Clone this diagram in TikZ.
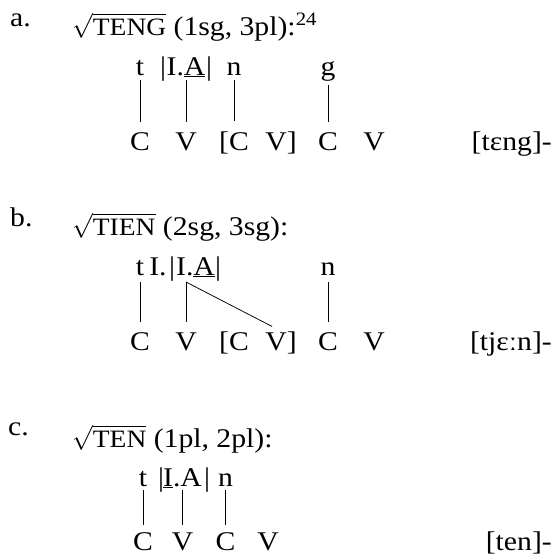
\documentclass[tikz,border=0pt]{standalone}
\usepackage{fontspec}
\setmainfont{Liberation Serif}[FakeStretch=1.1]
\newcommand{\fsc}[1]{{\fontsize{25}{30}\selectfont #1}}
\begin{document}
\begin{tikzpicture}[x=1pt,y=-1pt,
  txt/.style={inner sep=0pt, anchor=base, font=\fontsize{27}{32}\selectfont},
  lbl/.style={txt, anchor=base west},
  outp/.style={txt, anchor=base east},
  assoc/.style={line width=0.75pt, line cap=butt}]
\useasboundingbox (0,0) rectangle (560,558);

% ---------- a ----------
\node[lbl] (a-lab) at (10,26) {a.};
\node[lbl] (a-head) at (72,35) {$\sqrt{\mbox{\fsc{TENG}}}$ (1sg, 3pl):\textsuperscript{24}};
\node[txt] (a-t)  at (140,75) {t};
\node[txt] (a-b1) at (163,75) {|};
\node[txt] (a-IA) at (186,75) {I.\underline{A}};
\node[txt] (a-b2) at (209,75) {|};
\node[txt] (a-n)  at (234,75) {n};
\node[txt] (a-g)  at (328,75) {g};
\node[txt] (a-C1) at (140,150) {C};
\node[txt] (a-V1) at (186,150) {V};
\node[txt] (a-C2) at (234,150) {[C};
\node[txt] (a-V2) at (281,150) {V]};
\node[txt] (a-C3) at (328,150) {C};
\node[txt] (a-V3) at (374,150) {V};
\node[outp] (a-out) at (552,150) {[tɛng]-};
\draw[assoc, shorten <=5pt, shorten >=10pt] (a-t.base) -- (a-C1.north);
\draw[assoc, shorten <=5pt, shorten >=10pt] (a-IA.base) -- (a-V1.north);
\draw[assoc, shorten <=5pt, shorten >=10pt] (a-n.base) -- (a-C2.north);
\draw[assoc, shorten <=10pt, shorten >=10pt] (a-g.base) -- (a-C3.north);

% ---------- b ----------
\node[lbl] (b-lab) at (10,226) {b.};
\node[lbl] (b-head) at (72,235) {$\sqrt{\mbox{\fsc{TIEN}}}$ (2sg, 3sg):};
\node[txt] (b-t)  at (140,275) {t};
\node[txt] (b-I1) at (158,275) {I.};
\node[txt] (b-b1) at (172,275) {|};
\node[txt] (b-IA) at (195.5,275) {I.\underline{A}};
\node[txt] (b-b2) at (218,275) {|};
\node[txt] (b-n)  at (328,275) {n};
\coordinate (b-link) at (186,282);
\node[txt] (b-C1) at (140,350) {C};
\node[txt] (b-V1) at (186,350) {V};
\node[txt] (b-C2) at (234,350) {[C};
\node[txt] (b-V2) at (281,350) {V]};
\node[txt] (b-C3) at (328,350) {C};
\node[txt] (b-V3) at (374,350) {V};
\node[outp] (b-out) at (552,350) {[tjɛːn]-};
\draw[assoc, shorten <=7pt, shorten >=10pt] (b-t.base) -- (b-C1.north);
\draw[assoc, shorten >=10pt] (b-link) -- (b-V1.north);
\draw[assoc, shorten >=10pt] (b-link) -- (b-V2.north);
\draw[assoc, shorten <=7pt, shorten >=10pt] (b-n.base) -- (b-C3.north);

% ---------- c ----------
\node[lbl] (c-lab) at (8,435) {c.};
\node[lbl] (c-head) at (72,447) {$\sqrt{\mbox{\fsc{TEN}}}$ (1pl, 2pl):};
\node[txt] (c-t)  at (143,486) {t};
\node[txt] (c-b1) at (161,486) {|};
\node[txt] (c-IA) at (182.5,486) {\underline{I}.A};
\node[txt] (c-b2) at (207,486) {|};
\node[txt] (c-n)  at (225.5,486) {n};
\node[txt] (c-C1) at (143,550) {C};
\node[txt] (c-V1) at (182.5,550) {V};
\node[txt] (c-C2) at (225.5,550) {C};
\node[txt] (c-V2) at (268,550) {V};
\node[outp] (c-out) at (552,550) {[ten]-};
\draw[assoc, shorten <=4pt, shorten >=7pt] (c-t.base) -- (c-C1.north);
\draw[assoc, shorten <=4pt, shorten >=7pt] (c-IA.base) -- (c-V1.north);
\draw[assoc, shorten <=4pt, shorten >=7pt] (c-n.base) -- (c-C2.north);
\end{tikzpicture}
\end{document}
